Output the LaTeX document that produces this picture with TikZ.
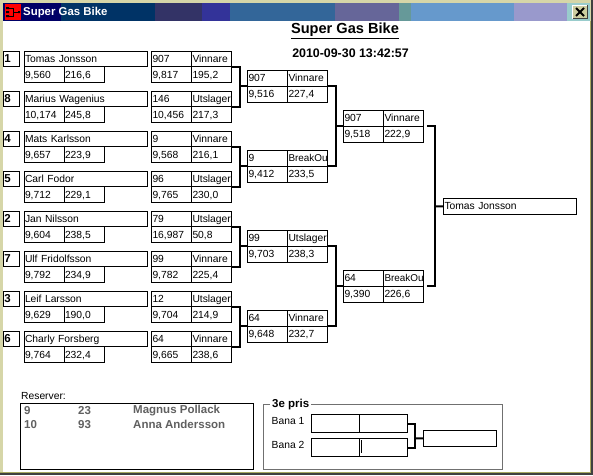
\documentclass[tikz,border=0pt]{standalone}
\usepackage{fontspec}
\setmainfont{Liberation Sans}
\newcommand{\pxfont}[1]{\fontsize{#1}{#1}\selectfont}
\newcommand{\rowh}{15.75}
\definecolor{winkhaki}{HTML}{D6D6A8}
\definecolor{winolive}{HTML}{A8A860}
\definecolor{windark}{HTML}{404040}
\definecolor{resgray}{HTML}{606060}
\definecolor{grpgray}{HTML}{707070}
\definecolor{closekhaki}{HTML}{CDCDA0}
\definecolor{barnavy}{HTML}{000066}
\definecolor{barblue}{HTML}{003366}
\definecolor{barplum}{HTML}{333366}
\definecolor{barviolet}{HTML}{333399}
\definecolor{barsteel}{HTML}{336699}
\definecolor{barmauve}{HTML}{666699}
\definecolor{barteal}{HTML}{669999}
\definecolor{barsky}{HTML}{6699CC}
\definecolor{barlilac}{HTML}{9999CC}
\definecolor{baraqua}{HTML}{99CCCC}
\tikzset{
    cell/.style={draw=black, line width=0.9pt, anchor=north west, outer sep=0pt,
        inner xsep=1pt, inner ysep=0pt, minimum width=#1, minimum height=\rowh pt,
        text width=#1-2pt, align=left, text height=7pt, text depth=0pt, font=\pxfont{10.3}},
    cell/.default=40pt,
    seedbox/.style={cell=16pt, font=\bfseries\pxfont{11.5}},
    tightcell/.style={cell, font=\pxfont{9.9}},
    bracket/.style={draw=black, line width=2pt, line cap=butt, line join=miter},
    reserv/.style={anchor=west, inner sep=0pt, text=resgray, font=\bfseries\pxfont{11.5}},
    plain/.style={anchor=west, inner sep=0pt, font=\pxfont{10.3}},
}
% seed, namn och tider for en forare
\newcommand{\riderbox}[6]{
    \node[seedbox] (#1s) at (3.5,#2) {#3};
    \node[cell=123pt] (#1n) at (24,#2) {#4};
    \node[cell] (#1t) at (24,{#2+\rowh}) {#5};
    \node[cell] (#1v) at (64,{#2+\rowh}) {#6};
}
% startnummer, status och tider for ett heat
\newcommand{\heatbox}[8][cell]{
    \node[cell] (#2a) at (#3,#4) {#5};
    \node[#1] (#2b) at ({#3+40},#4) {#6};
    \node[cell] (#2c) at (#3,{#4+\rowh}) {#7};
    \node[cell] (#2d) at ({#3+40},{#4+\rowh}) {#8};
}
\begin{document}
\begin{tikzpicture}[x=1pt, y=-1pt]
    \useasboundingbox (0,0) rectangle (593,475);

    % fonster
    \fill[winkhaki] (0,0) rectangle (593,475);
    \fill[white] (3,21) rectangle (590,472);
    \fill[winolive] (0,472) rectangle (591,473);
    \fill[winolive] (590,21) rectangle (591,473);
    \fill[windark] (0,473) rectangle (593,475);
    \fill[windark] (591,0) rectangle (593,475);

    % titelrad
    \fill[barnavy] (3,3) rectangle (61,21);
    \fill[barblue] (61,3) rectangle (155,21);
    \fill[barplum] (155,3) rectangle (202,21);
    \fill[barviolet] (202,3) rectangle (230,21);
    \fill[barsteel] (230,3) rectangle (335,21);
    \fill[barmauve] (335,3) rectangle (399,21);
    \fill[barteal] (399,3) rectangle (411,21);
    \fill[barsky] (411,3) rectangle (514,21);
    \fill[barlilac] (514,3) rectangle (567,21);
    \fill[baraqua] (567,3) rectangle (590,21);
    \node[anchor=west, inner sep=0pt, text=white, font=\bfseries\pxfont{11.4}] (bartitle) at (23,12.5) {Super Gas Bike};

    % ikon
    \fill[red] (5,4) rectangle (21,20);
    \fill[black] (6,7) rectangle (9,9) (6,11) rectangle (9,13) (6,15) rectangle (9,17) (18,11) rectangle (20,13);
    \draw[black, line width=1pt] (9,8) -- (13,8) -- (13,16) -- (9,16) (13,12) -- (18,12);

    % stang-knapp
    \fill[closekhaki] (572,5) rectangle (588,19);
    \draw[white, line width=1pt] (572.5,19) -- (572.5,5.5) -- (588,5.5);
    \draw[windark, line width=1pt] (572.5,18.5) -- (587.5,18.5) -- (587.5,5);
    \draw[black, line width=2pt] (576,8) -- (584,16) (584,8) -- (576,16);

    % rubrik
    \node[inner sep=0pt, font=\bfseries\pxfont{14.6}] (title) at (345,30.5) {\underline{Super Gas Bike}};
    \node[inner sep=0pt, font=\bfseries\pxfont{12.4}] (date) at (350.5,53) {2010-09-30 13:42:57};

    % forare
    \riderbox{ra}{51}{1}{Tomas Jonsson}{9,560}{216,6}
    \riderbox{rb}{91}{8}{Marius Wagenius}{10,174}{245,8}
    \riderbox{rc}{131}{4}{Mats Karlsson}{9,657}{223,9}
    \riderbox{rd}{171}{5}{Carl Fodor}{9,712}{229,1}
    \riderbox{re}{211}{2}{Jan Nilsson}{9,604}{238,5}
    \riderbox{rf}{251}{7}{Ulf Fridolfsson}{9,792}{234,9}
    \riderbox{rg}{291}{3}{Leif Larsson}{9,629}{190,0}
    \riderbox{rh}{331}{6}{Charly Forsberg}{9,764}{232,4}

    % forsta omgangen
    \heatbox{qa}{151.5}{51}{907}{Vinnare}{9,817}{195,2}
    \heatbox{qb}{151.5}{91}{146}{Utslager}{10,456}{217,3}
    \heatbox{qc}{151.5}{131}{9}{Vinnare}{9,568}{216,1}
    \heatbox{qd}{151.5}{171}{96}{Utslager}{9,765}{230,0}
    \heatbox{qe}{151.5}{211}{79}{Utslager}{16,987}{50,8}
    \heatbox{qf}{151.5}{251}{99}{Vinnare}{9,782}{225,4}
    \heatbox{qg}{151.5}{291}{12}{Utslager}{9,704}{214,9}
    \heatbox{qh}{151.5}{331}{64}{Vinnare}{9,665}{238,6}

    % semifinal
    \heatbox{sa}{247.5}{70.5}{907}{Vinnare}{9,516}{227,4}
    \heatbox[tightcell]{sb}{247.5}{150.5}{9}{BreakOu}{9,412}{233,5}
    \heatbox{sc}{247.5}{230.5}{99}{Utslager}{9,703}{238,3}
    \heatbox{sd}{247.5}{310.5}{64}{Vinnare}{9,648}{232,7}

    % final
    \heatbox{fa}{343.5}{110.5}{907}{Vinnare}{9,518}{222,9}
    \heatbox[tightcell]{fb}{343.5}{270.5}{64}{BreakOu}{9,390}{226,6}
    \node[cell=132.5pt] (winner) at (443.5,198.5) {Tomas Jonsson};

    % linjer forsta omgangen
    \coordinate (ja) at (239.5,86.25);
    \coordinate (jb) at (239.5,166.25);
    \coordinate (jc) at (239.5,246.25);
    \coordinate (jd) at (239.5,326.25);
    \draw[bracket] (qab.south east) -| (ja) |- (qbb.south east);
    \draw[bracket] (qcb.south east) -| (jb) |- (qdb.south east);
    \draw[bracket] (qeb.south east) -| (jc) |- (qfb.south east);
    \draw[bracket] (qgb.south east) -| (jd) |- (qhb.south east);
    \draw[bracket] (ja) -- (saa.south west);
    \draw[bracket] (jb) -- (sba.south west);
    \draw[bracket] (jc) -- (sca.south west);
    \draw[bracket] (jd) -- (sda.south west);

    % linjer semifinal
    \coordinate (je) at (335.5,126.25);
    \coordinate (jf) at (335.5,286.25);
    \draw[bracket] (sab.south east) -| (je) |- (sbb.south east);
    \draw[bracket] (scb.south east) -| (jf) |- (sdb.south east);
    \draw[bracket] (je) -- (faa.south west);
    \draw[bracket] (jf) -- (fba.south west);

    % linjer final, med glapp vid rutorna
    \coordinate (jg) at (435,206.5);
    \draw[bracket, shorten <=3.5pt, shorten >=3.5pt] (fab.south east) -| (jg) |- (fbb.south east);
    \draw[bracket] (jg) -- (winner.west);

    % reserver
    \node[plain] (reslabel) at (21,396) {Reserver:};
    \draw[black, line width=0.9pt] (20.5,403.5) rectangle (253.5,469.5);
    \node[reserv] (resa) at (24,411) {9};
    \node[reserv] (resb) at (78,411) {23};
    \node[reserv] (resc) at (133,411) {Magnus Pollack};
    \node[reserv] (resd) at (24,424.5) {10};
    \node[reserv] (rese) at (78,424.5) {93};
    \node[reserv] (resf) at (133,424.5) {Anna Andersson};

    % 3e pris
    \draw[grpgray, line width=0.9pt] (263.5,404.5) rectangle (502.5,469.5);
    \node[anchor=west, fill=white, inner xsep=2pt, inner ysep=1pt, font=\bfseries\pxfont{11.5}] (prize) at (270,405) {3e pris};
    \node[plain] (lanea) at (271.5,421) {Bana 1};
    \node[plain] (laneb) at (271.5,444.5) {Bana 2};
    \node[cell=48pt, minimum height=18pt] (pa) at (311.5,414.5) {};
    \node[cell=48pt, minimum height=18pt] (pb) at (359.5,414.5) {};
    \node[cell=48pt, minimum height=18pt] (pc) at (311.5,438.5) {};
    \node[cell=48pt, minimum height=18pt] (pd) at (359.5,438.5) {};
    \node[cell=72.5pt] (pw) at (423.5,430.5) {};
    \draw[black, line width=0.9pt] (361.5,440) -- (361.5,452.5);
    \coordinate (jp) at (415,438.4);
    \draw[bracket] (pb.east) -| (jp) |- (pd.east);
    \draw[bracket] (jp) -- (pw.west);
\end{tikzpicture}
\end{document}
